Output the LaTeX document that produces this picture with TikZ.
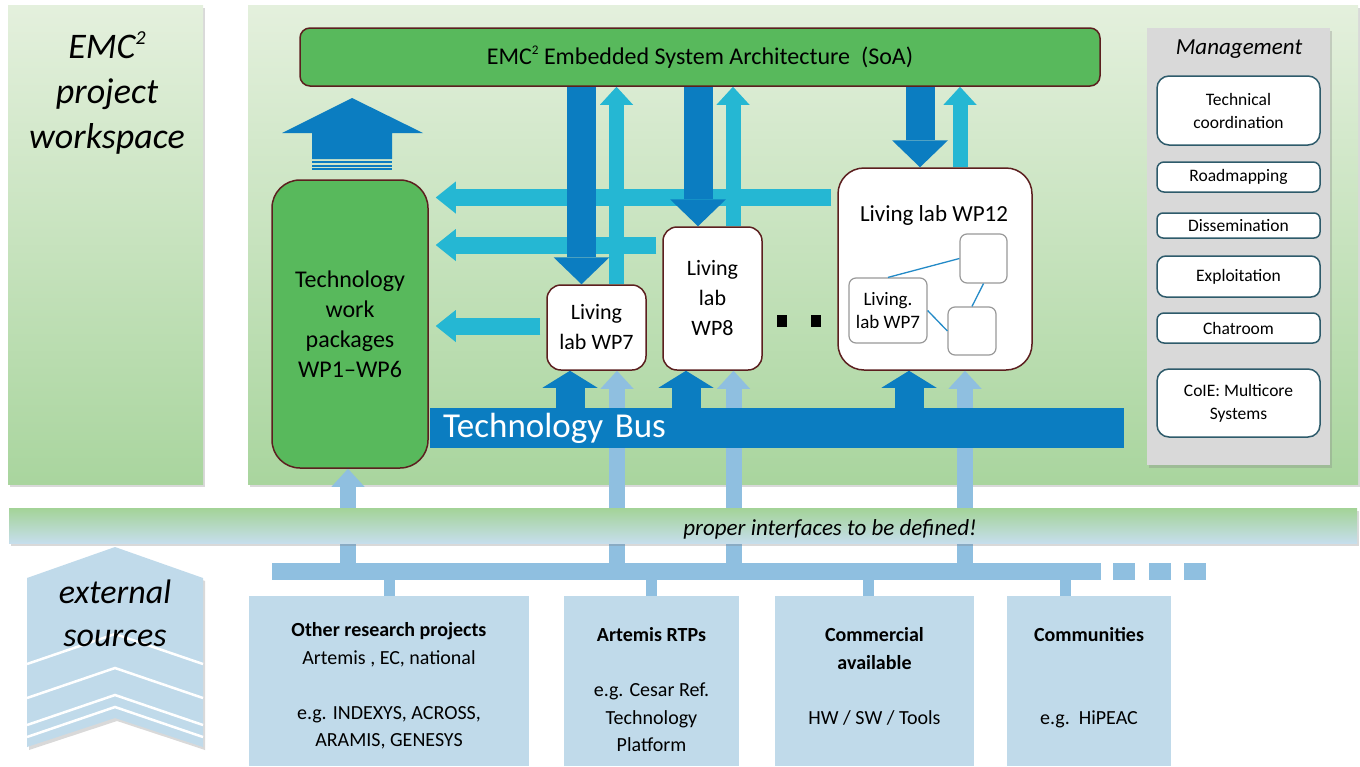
\documentclass[tikz,border=0pt]{standalone}
\usepackage{fontspec}
\setmainfont{Carlito}
\usepackage{xcolor}
\usetikzlibrary{arrows.meta, shadows, positioning}

\definecolor{busblue}{HTML}{0B7DC1}
\definecolor{linkcyan}{HTML}{25B7D3}
\definecolor{extblue}{HTML}{8FBFE0}
\definecolor{srcfill}{HTML}{C0DAEA}
\definecolor{wpgreen}{HTML}{58B95C}
\definecolor{wpedge}{HTML}{5C1F1F}
\definecolor{paneltop}{HTML}{E4F0DD}
\definecolor{panelbot}{HTML}{A9D59E}
\definecolor{mgmtgray}{HTML}{D9D9D9}
\definecolor{mgmtedge}{HTML}{2E5B6B}
\definecolor{bandgreen}{HTML}{A3D397}
\definecolor{bandblue}{HTML}{C6DEEC}

\newcommand{\powtwo}{\raisebox{0.4em}{\scalebox{0.55}{2}}}

\begin{document}
\begin{tikzpicture}[x=1pt, y=-1pt,
    softshadow/.style={drop shadow={opacity=0.3, shadow xshift=2pt, shadow yshift=-3pt}},
    panel/.style={top color=paneltop, bottom color=panelbot, inner sep=0pt, softshadow},
    wpbox/.style={fill=wpgreen, draw=wpedge, line width=1.5pt, inner sep=0pt, align=center},
    labbox/.style={fill=white, draw=wpedge, line width=1.5pt, inner sep=0pt, align=center, font=\fontsize{22}{30}\selectfont},
    subbox/.style={fill=white, draw=gray!80, line width=1.2pt, rounded corners=7pt, inner sep=0pt, align=center},
    innerlink/.style={draw=busblue!90, line width=1.3pt},
    mgbox/.style={fill=white, draw=mgmtedge, line width=1.5pt, minimum width=163pt, inner sep=0pt, align=center, font=\fontsize{17.5}{23}\selectfont},
    srcbox/.style={fill=srcfill, inner sep=0pt, minimum height=170pt},
    srctext/.style={anchor=north, align=center, inner sep=0pt, font=\fontsize{20}{27.5}\selectfont},
    soadown/.style={draw=busblue, line width=29pt, -{Triangle[width=56pt, length=27pt, line width=0pt]}},
    soaup/.style={draw=linkcyan, line width=15pt, -{Triangle[width=33pt, length=18pt, line width=0pt]}},
    feedback/.style={draw=linkcyan, line width=17pt, -{Triangle[width=32pt, length=20pt, line width=0pt]}, shorten <=6pt, shorten >=7pt},
    busup/.style={draw=busblue, line width=29pt, -{Triangle[width=55pt, length=17pt, line width=0pt]}},
    extup/.style={draw=extblue, line width=16pt, -{Triangle[width=33pt, length=18pt, line width=0pt]}},
    extlink/.style={draw=extblue, line width=11pt},
]
    \useasboundingbox (0,0) rectangle (1360,766);

    \node[panel, minimum width=195pt, minimum height=479pt] (wspace) at (105.5,244.5) {};
    \node[panel, minimum width=1110pt, minimum height=479pt] (lab) at (803,244.5) {};
    \node[align=center, font=\itshape\fontsize{36}{45}\selectfont] (wstxt) at (107,93) {EMC\powtwo\\project\\workspace};

    \node[fill=mgmtgray, minimum width=183pt, minimum height=437pt, inner sep=0pt, softshadow] (mgmt) at (1238.5,246.5) {};
    \node[font=\itshape\fontsize{23}{26}\selectfont] (mgtitle) at (1239,49) {Management};
    \node[mgbox, rounded corners=12pt, minimum height=69pt] (mg1) at (1238.5,110.5) {Technical\\coordination};
    \node[mgbox, rounded corners=7pt, minimum height=30pt] (mg2) at (1238.5,177) {Roadmapping};
    \node[mgbox, rounded corners=6pt, minimum height=25pt] (mg3) at (1238.5,225.5) {Dissemination};
    \node[mgbox, rounded corners=9pt, minimum height=41pt] (mg4) at (1238.5,276.5) {Exploitation};
    \node[mgbox, rounded corners=7pt, minimum height=30pt] (mg5) at (1238.5,328) {Chatroom};
    \node[mgbox, rounded corners=12pt, minimum height=68pt] (mg6) at (1238.5,403) {CoIE: Multicore\\Systems};

    \fill[srcfill, softshadow] (27,578) -- (115,547) -- (203,578) -- (203,747) -- (115,718) -- (27,747) -- cycle;
    \foreach \y in {664,698,725,737}
    \draw[white, line width=2.5pt] (27,\y) -- (115,\y-30) -- (203,\y);
    \node[align=center, font=\itshape\fontsize{34}{43}\selectfont] (exttxt) at (115,613) {external\\sources};

    \node[wpbox, rounded corners=10pt, minimum width=800pt, minimum height=58pt, font=\fontsize{24}{28}\selectfont] (soa) at (700,57) {EMC\powtwo\ Embedded System Architecture\ \ (SoA)};
    \node[wpbox, rounded corners=28pt, minimum width=156pt, minimum height=288pt, font=\fontsize{24}{30}\selectfont] (techwp) at (350,324) {Technology\\work\\packages\\WP1--WP6};

    \fill[busblue] (282,133) -- (352,98) -- (423,133) -- (392,133) -- (392,159) -- (312,159) -- (312,133) -- cycle;
    \foreach \y in {160.8,164.8,168.3}
    \fill[busblue] (312,\y) rectangle (392,\y+1.9);

    \node[labbox, rounded corners=14pt, minimum width=99pt, minimum height=85pt] (wp7) at (596.5,327.5) {Living\\lab WP7};
    \node[labbox, rounded corners=14pt, minimum width=99pt, minimum height=143pt] (wp8) at (712.5,298.5) {Living\\lab\\WP8};
    \node[labbox, rounded corners=26pt, minimum width=194pt, minimum height=202pt] (wp12) at (935,269) {};
    \node[font=\fontsize{23}{28}\selectfont] (wp12txt) at (934,215) {Living lab WP12};
    \node[subbox, minimum width=78pt, minimum height=65pt, font=\fontsize{19}{23}\selectfont] (inlab) at (888,310.5) {Living.\\lab WP7};
    \node[subbox, minimum width=47pt, minimum height=49pt] (inb) at (983.5,258.5) {};
    \node[subbox, minimum width=48pt, minimum height=48pt] (inc) at (972,331) {};
    \draw[innerlink] (inlab.north) -- (inb.west);
    \draw[innerlink] (inb.south) -- (inc.north);
    \draw[innerlink] (inlab.east) -- (inc.west);

    \foreach \x in {782,816}
    \fill (\x-5,315) rectangle (\x+5,327);

    \coordinate (f12) at ([yshift=71.5pt]wp12.west);
    \coordinate (f8) at ([yshift=53.5pt]wp8.west);
    \coordinate (f7) at ([yshift=1.5pt]wp7.west);
    \draw[feedback] (f12) -- (f12 -| techwp.east);
    \draw[feedback] (f8) -- (f8 -| techwp.east);
    \draw[feedback] (f7) -- (f7 -| techwp.east);

    \coordinate (d7) at ([xshift=-15pt]wp7.north);
    \coordinate (u7) at ([xshift=20pt]wp7.north);
    \coordinate (d8) at ([xshift=-14.5pt]wp8.north);
    \coordinate (u8) at ([xshift=20.5pt]wp8.north);
    \coordinate (d12) at ([xshift=-15pt]wp12.north);
    \coordinate (u12) at ([xshift=25pt]wp12.north);
    \draw[soaup] (u7) -- (u7 |- soa.south);
    \draw[soaup] (u8) -- (u8 |- soa.south);
    \draw[soaup] (u12) -- (u12 |- soa.south);
    \draw[soadown] (d7 |- soa.south) -- (d7);
    \draw[soadown] (d8 |- soa.south) -- (d8);
    \draw[soadown] (d12 |- soa.south) -- (d12);

    \node[fill=extblue, minimum width=829pt, minimum height=17pt, inner sep=0pt] (srcbar) at (686.5,571.5) {};
    \foreach \x [count=\i] in {1124,1159.5,1194.5}
    \node[fill=extblue, minimum width=22pt, minimum height=17pt, inner sep=0pt] (more\i) at (\x,571.5) {};

    \coordinate (ewp) at ([xshift=-2pt]techwp.south);
    \coordinate (e7) at ([xshift=20.5pt]wp7.south);
    \coordinate (e8) at ([xshift=21pt]wp8.south);
    \coordinate (e12) at ([xshift=30pt]wp12.south);
    \draw[extup] (ewp |- srcbar.north) -- (ewp);
    \draw[extup] (e7 |- srcbar.north) -- (e7);
    \draw[extup] (e8 |- srcbar.north) -- (e8);
    \draw[extup] (e12 |- srcbar.north) -- (e12);

    \node[top color=bandgreen, bottom color=bandblue, minimum width=1348pt, minimum height=35pt, inner sep=0pt, softshadow] (iface) at (683,525.5) {};
    \node[font=\itshape\fontsize{23}{28}\selectfont] (ifacetxt) at (830,529) {proper interfaces to be defined!};

    \node[fill=busblue, text=white, minimum height=40pt, text width=668pt, inner xsep=13pt, inner ysep=0pt, align=left, font=\fontsize{35}{40}\selectfont] (bus) at (777,428) {Technology Bus};
    \coordinate (b7) at ([xshift=-26.5pt]wp7.south);
    \coordinate (b8) at ([xshift=-26.5pt]wp8.south);
    \coordinate (b12) at ([xshift=-26pt]wp12.south);
    \draw[busup] (b7 |- bus.north) -- (b7);
    \draw[busup] (b8 |- bus.north) -- (b8);
    \draw[busup] (b12 |- bus.north) -- (b12);

    \node[srcbox, minimum width=280pt] (src1) at (389,681) {};
    \node[srcbox, minimum width=175pt] (src2) at (651.5,681) {};
    \node[srcbox, minimum width=199pt] (src3) at (874.5,681) {};
    \node[srcbox, minimum width=164pt] (src4) at (1089,681) {};
    \node[srctext] (src1txt) at ([yshift=-26.5pt]src1.north) {\textbf{Other research projects}\\Artemis , EC, national\\[27.5pt]e.g. INDEXYS, ACROSS,\\ARAMIS, GENESYS};
    \node[srctext] (src2txt) at ([yshift=-31.5pt]src2.north) {\textbf{Artemis RTPs}\\[27.5pt]e.g. Cesar Ref.\\Technology\\Platform};
    \node[srctext] (src3txt) at ([yshift=-31.5pt]src3.north) {\textbf{Commercial}\\\textbf{available}\\[27.5pt]HW / SW / Tools};
    \node[srctext] (src4txt) at ([yshift=-31.5pt]src4.north) {\textbf{Communities}\\[55pt]e.g.\ \ HiPEAC};

    \coordinate (l3) at ([xshift=-6.5pt]src3.north);
    \coordinate (l4) at ([xshift=-24pt]src4.north);
    \draw[extlink] (src1.north |- srcbar.south) -- (src1.north);
    \draw[extlink] (src2.north |- srcbar.south) -- (src2.north);
    \draw[extlink] (l3 |- srcbar.south) -- (l3);
    \draw[extlink] (l4 |- srcbar.south) -- (l4);
\end{tikzpicture}
\end{document}
